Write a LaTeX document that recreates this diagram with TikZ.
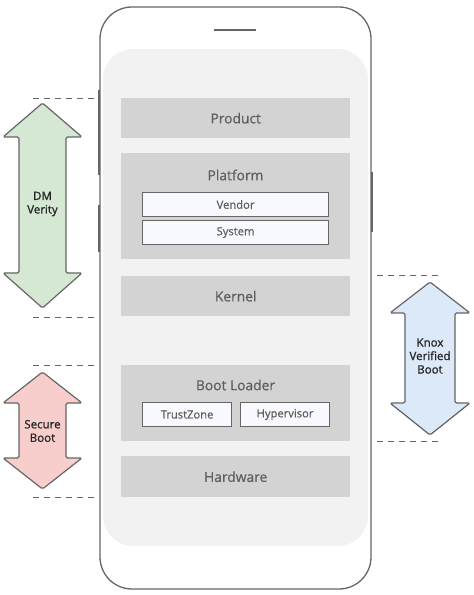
\documentclass[tikz,border=0pt]{standalone}
\usepackage{fontspec}
\setmainfont{Open Sans}
\newfontfamily\medfont{Open Sans}[FakeBold=0.6]
\newfontfamily\arrfont{Open Sans}[FakeBold=1.2]
\begin{document}
\begin{tikzpicture}[x=1pt,y=-1pt,
  layer/.style={fill=layergray,draw=none,minimum width=229pt,anchor=north west,inner sep=0pt,text=txtgray,font=\medfont\fontsize{13.8}{15}\selectfont},
  layerlbl/.style={text=txtgray,font=\medfont\fontsize{13.8}{15}\selectfont},
  inner/.style={fill=innerfill,draw=edgegray,line width=1.1pt,anchor=north west,inner sep=0pt,text=txtgray,font=\medfont\fontsize{11.2}{12}\selectfont},
  guide/.style={draw=edgegray,dash pattern=on 6pt off 5pt,line width=1pt},
  arrowshape/.style={draw=edgegray,line width=1.2pt,rounded corners=1.5pt},
  arrowtxt/.style={font=\arrfont\fontsize{11.5}{13.5}\selectfont,text=black!85,align=center}]
\definecolor{layergray}{HTML}{D3D3D3}
\definecolor{screengray}{HTML}{F2F2F2}
\definecolor{edgegray}{HTML}{666666}
\definecolor{txtgray}{HTML}{5E5E5E}
\definecolor{innerfill}{HTML}{F7F9FF}
\definecolor{dmgreen}{HTML}{D5E8D4}
\definecolor{sbpink}{HTML}{F8CECC}
\definecolor{knoxblue}{HTML}{DCE9F8}
\useasboundingbox (0,0) rectangle (474,595);
% phone body
\draw[edgegray,line width=1.3pt,rounded corners=32pt] (100,7) rectangle (371,589);
% side buttons
\draw[edgegray,line width=2.5pt] (99,90) -- (99,175);
\draw[edgegray,line width=2.5pt] (99,205) -- (99,252);
\draw[edgegray,line width=2.5pt] (372,172) -- (372,232);
% speaker
\draw[edgegray,line width=1.3pt] (214,30) -- (256,30);
% screen
\fill[screengray,rounded corners=30pt] (103,49) rectangle (368,546);
% layers
\node[layer,minimum height=40pt] (product) at (121,98) {Product};
\node[layer,minimum height=106pt] (platform) at (121,153) {};
\node[layerlbl] (platformlbl) at (235.5,175) {Platform};
\node[inner,minimum width=186pt,minimum height=24pt] (vendor) at (142,192) {Vendor};
\node[inner,minimum width=186pt,minimum height=24pt] (system) at (142,220) {System};
\node[layer,minimum height=40pt] (kernel) at (121,276) {Kernel};
\node[layer,minimum height=76pt] (bootloader) at (121,365) {};
\node[layerlbl] (bootlbl) at (235.5,385) {Boot Loader};
\node[inner,minimum width=89pt,minimum height=24pt] (trustzone) at (142,402) {TrustZone};
\node[inner,minimum width=89pt,minimum height=24pt] (hypervisor) at (240,402) {Hypervisor};
\node[layer,minimum height=41pt] (hardware) at (121,456) {Hardware};
% dashed guides
\coordinate (d1a) at (33,98); \coordinate (d1b) at (95,98);
\coordinate (d2a) at (33,317); \coordinate (d2b) at (95,317);
\coordinate (d3a) at (33,365); \coordinate (d3b) at (95,365);
\coordinate (d4a) at (33,497); \coordinate (d4b) at (95,497);
\coordinate (d5a) at (377,275); \coordinate (d5b) at (440,275);
\coordinate (d6a) at (377,441); \coordinate (d6b) at (440,441);
\draw[guide] (d1a) -- (d1b);
\draw[guide] (d2a) -- (d2b);
\draw[guide] (d3a) -- (d3b);
\draw[guide] (d4a) -- (d4b);
\draw[guide] (d5a) -- (d5b);
\draw[guide] (d6a) -- (d6b);
% DM Verity arrow
\draw[arrowshape,fill=dmgreen] (42.5,103) -- (82,137) -- (66,137) -- (66,273) -- (82,273) -- (42.5,308)
  -- (3,273) -- (19,273) -- (19,137) -- (3,137) -- cycle;
\node[arrowtxt] (dmverity) at (42.5,204) {DM\\Verity};
% Secure Boot arrow
\draw[arrowshape,fill=sbpink] (42.5,372) -- (82,403) -- (66,403) -- (66,458) -- (82,458) -- (42.5,489)
  -- (3,458) -- (19,458) -- (19,403) -- (3,403) -- cycle;
\node[arrowtxt] (secureboot) at (42.5,431) {Secure\\Boot};
% Knox Verified Boot arrow
\draw[arrowshape,fill=knoxblue] (430,282) -- (470,313) -- (455,313) -- (455,403) -- (470,403) -- (430,435)
  -- (390,403) -- (405,403) -- (405,313) -- (390,313) -- cycle;
\node[arrowtxt] (knox) at (430,356) {Knox\\Verified\\Boot};
\end{tikzpicture}
\end{document}
